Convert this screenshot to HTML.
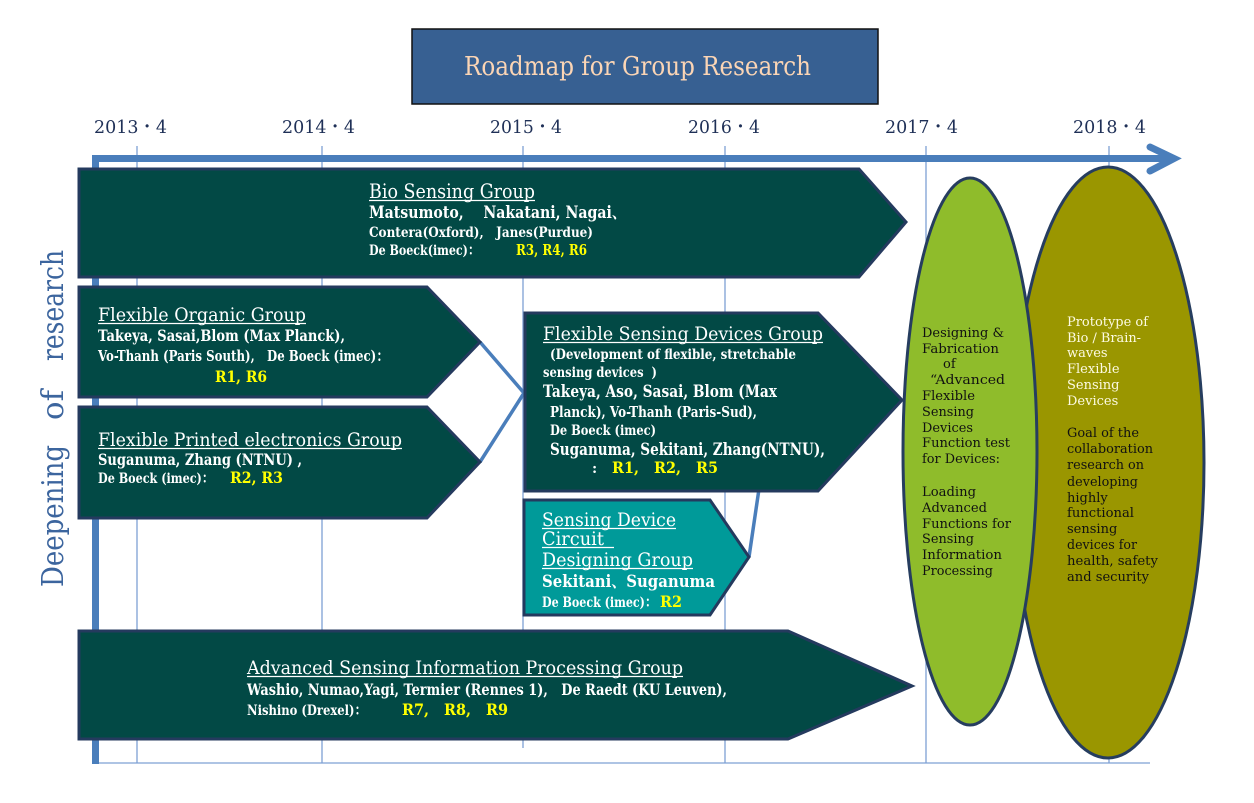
<!DOCTYPE html>
<html><head><meta charset="utf-8">
<style>
html,body{margin:0;padding:0;background:#fff;}
svg{display:block;}
text{font-family:"DejaVu Serif","Liberation Serif","Noto Serif CJK SC",serif;white-space:pre;}
.w{fill:#fff;}
.y{fill:#ffff00;font-weight:bold;}
.b{font-weight:bold;}
</style></head>
<body>
<svg width="1254" height="803" viewBox="0 0 1254 803" xmlns="http://www.w3.org/2000/svg">
<rect width="1254" height="803" fill="#fff"/>
<!-- title -->
<rect x="412" y="29" width="466" height="75" fill="#376092" stroke="#111" stroke-width="1.5"/>
<text x="464" y="75" font-size="26" fill="#fbd5b5" textLength="347" lengthAdjust="spacingAndGlyphs">Roadmap for Group Research</text>
<!-- years -->
<g font-size="18" fill="#1f3057">
<text x="94" y="133" textLength="73" lengthAdjust="spacingAndGlyphs">2013・4</text>
<text x="282" y="133" textLength="73" lengthAdjust="spacingAndGlyphs">2014・4</text>
<text x="490" y="133" textLength="72" lengthAdjust="spacingAndGlyphs">2015・4</text>
<text x="688" y="133" textLength="72" lengthAdjust="spacingAndGlyphs">2016・4</text>
<text x="885" y="133" textLength="73" lengthAdjust="spacingAndGlyphs">2017・4</text>
<text x="1073" y="133" textLength="73" lengthAdjust="spacingAndGlyphs">2018・4</text>
</g>
<!-- gridlines -->
<g stroke="#7ea0d4" stroke-width="1.3">
<line x1="137" y1="146" x2="137" y2="763"/>
<line x1="322" y1="146" x2="322" y2="763"/>
<line x1="523" y1="146" x2="523" y2="748"/>
<line x1="725" y1="146" x2="725" y2="763"/>
<line x1="926" y1="146" x2="926" y2="763"/>
<line x1="1109" y1="146" x2="1109" y2="763"/>
<line x1="92" y1="763" x2="1150" y2="763"/>
</g>
<!-- axes -->
<rect x="92" y="155" width="7" height="609" fill="#4a7ebb"/>
<rect x="92" y="155" width="1078" height="7" fill="#4a7ebb"/>
<polyline points="1150,147 1174,158.5 1150,171" fill="none" stroke="#4a7ebb" stroke-width="7" stroke-linecap="round" stroke-linejoin="miter"/>
<!-- side label -->
<g font-size="30" fill="#3c659e">
<text transform="translate(63,587) rotate(-90)" textLength="142" lengthAdjust="spacingAndGlyphs">Deepening</text>
<text transform="translate(63,420) rotate(-90)" textLength="30" lengthAdjust="spacingAndGlyphs">of</text>
<text transform="translate(63,361) rotate(-90)" textLength="111" lengthAdjust="spacingAndGlyphs">research</text>
</g>

<!-- connectors -->
<g stroke="#4a7ebb" stroke-width="3.5" fill="none">
<polyline points="480,342 524,393 480,462"/>
<line x1="749" y1="557" x2="759" y2="489"/>
</g>

<!-- boxes -->
<g stroke="#243a5e" stroke-width="3" stroke-linejoin="miter">
<polygon points="79,169 859,169 906,222 859,277 79,277" fill="#024945"/>
<polygon points="79,287 427,287 480,342 427,397 79,397" fill="#024945"/>
<polygon points="79,407 427,407 480,462 427,518 79,518" fill="#024945"/>
<polygon points="525,313 818,313 902,400 818,491 525,491" fill="#024945"/>
<polygon points="524,500 710,500 749,557 710,615 524,615" fill="#009a99"/>
<polygon points="79,631 788,631 912,686 788,739 79,739" fill="#024945"/>
</g>

<!-- ellipses -->
<ellipse cx="1108" cy="462.5" rx="96" ry="295.5" fill="#9a9600" stroke="#263d5f" stroke-width="3"/>
<ellipse cx="970" cy="451.5" rx="67" ry="273.5" fill="#8fbc2b" stroke="#263d5f" stroke-width="3"/>

<!-- Bio -->
<g class="w">
<text x="369" y="198" font-size="20" textLength="166" lengthAdjust="spacingAndGlyphs">Bio Sensing Group</text>
<text x="369" y="218" font-size="17" class="b" textLength="257" lengthAdjust="spacingAndGlyphs">Matsumoto,    Nakatani, Nagai、</text>
<text x="369" y="237" font-size="14" class="b" textLength="224" lengthAdjust="spacingAndGlyphs">Contera(Oxford),   Janes(Purdue)</text>
<text x="369" y="255" font-size="14" class="b" textLength="110" lengthAdjust="spacingAndGlyphs">De Boeck(imec)：</text>
</g>
<text x="516" y="255" font-size="15" class="y" textLength="71" lengthAdjust="spacingAndGlyphs">R3, R4, R6</text>
<line x1="369" y1="200.5" x2="535" y2="200.5" stroke="#fff" stroke-width="1.2"/>

<!-- Flexible Organic -->
<g class="w">
<text x="98" y="321" font-size="19" textLength="208" lengthAdjust="spacingAndGlyphs">Flexible Organic Group</text>
<text x="98" y="341" font-size="16" class="b" textLength="247" lengthAdjust="spacingAndGlyphs">Takeya, Sasai,Blom (Max Planck),</text>
<text x="98" y="361" font-size="15" class="b" textLength="290" lengthAdjust="spacingAndGlyphs">Vo-Thanh (Paris South),   De Boeck (imec)：</text>
</g>
<text x="215" y="382" font-size="16" class="y" textLength="52" lengthAdjust="spacingAndGlyphs">R1, R6</text>
<line x1="98" y1="323.5" x2="306" y2="323.5" stroke="#fff" stroke-width="1.2"/>

<!-- Flexible Printed -->
<g class="w">
<text x="98" y="446" font-size="19" textLength="304" lengthAdjust="spacingAndGlyphs">Flexible Printed electronics Group</text>
<text x="98" y="465" font-size="16" class="b" textLength="204" lengthAdjust="spacingAndGlyphs">Suganuma, Zhang (NTNU) ,</text>
<text x="98" y="483" font-size="14" class="b" textLength="115" lengthAdjust="spacingAndGlyphs">De Boeck (imec)：</text>
</g>
<text x="230" y="483" font-size="16" class="y" textLength="53" lengthAdjust="spacingAndGlyphs">R2, R3</text>
<line x1="98" y1="448.5" x2="402" y2="448.5" stroke="#fff" stroke-width="1.2"/>

<!-- FSD -->
<g class="w">
<text x="543" y="340" font-size="19" textLength="280" lengthAdjust="spacingAndGlyphs">Flexible Sensing Devices Group</text>
<text x="550" y="359" font-size="14" class="b" textLength="246" lengthAdjust="spacingAndGlyphs">(Development of flexible, stretchable</text>
<text x="543" y="377" font-size="14" class="b" textLength="114" lengthAdjust="spacingAndGlyphs">sensing devices  )</text>
<text x="543" y="397" font-size="17" class="b" textLength="234" lengthAdjust="spacingAndGlyphs">Takeya, Aso, Sasai, Blom (Max</text>
<text x="550" y="417" font-size="15" class="b" textLength="207" lengthAdjust="spacingAndGlyphs">Planck), Vo-Thanh (Paris-Sud),</text>
<text x="550" y="435" font-size="14" class="b" textLength="106" lengthAdjust="spacingAndGlyphs">De Boeck (imec)</text>
<text x="550" y="455" font-size="17" class="b" textLength="275" lengthAdjust="spacingAndGlyphs">Suganuma, Sekitani, Zhang(NTNU),</text>
<text x="592" y="473" font-size="14" class="b">:</text>
</g>
<text x="612" y="473" font-size="16" class="y" textLength="106" lengthAdjust="spacingAndGlyphs">R1,   R2,   R5</text>
<line x1="543" y1="342.5" x2="823" y2="342.5" stroke="#fff" stroke-width="1.2"/>

<!-- Circuit -->
<g class="w">
<text x="542" y="526" font-size="19" textLength="134" lengthAdjust="spacingAndGlyphs">Sensing Device</text>
<text x="542" y="545" font-size="19" textLength="62" lengthAdjust="spacingAndGlyphs">Circuit</text>
<text x="542" y="566" font-size="19" textLength="151" lengthAdjust="spacingAndGlyphs">Designing Group</text>
<text x="542" y="587" font-size="17" class="b" textLength="173" lengthAdjust="spacingAndGlyphs">Sekitani、Suganuma</text>
<text x="542" y="607" font-size="14" class="b" textLength="114" lengthAdjust="spacingAndGlyphs">De Boeck (imec)：</text>
</g>
<text x="660" y="607" font-size="16" class="y" textLength="22" lengthAdjust="spacingAndGlyphs">R2</text>
<g stroke="#fff" stroke-width="1.2">
<line x1="542" y1="528.5" x2="676" y2="528.5"/>
<line x1="542" y1="547.5" x2="614" y2="547.5"/>
<line x1="542" y1="568.5" x2="693" y2="568.5"/>
</g>

<!-- Advanced -->
<g class="w">
<text x="247" y="674" font-size="19" textLength="436" lengthAdjust="spacingAndGlyphs">Advanced Sensing Information Processing Group</text>
<text x="247" y="695" font-size="16" class="b" textLength="480" lengthAdjust="spacingAndGlyphs">Washio, Numao,Yagi, Termier (Rennes 1),   De Raedt (KU Leuven),</text>
<text x="247" y="715" font-size="14" class="b" textLength="119" lengthAdjust="spacingAndGlyphs">Nishino (Drexel)：</text>
</g>
<text x="402" y="715" font-size="16" class="y" textLength="106" lengthAdjust="spacingAndGlyphs">R7,   R8,   R9</text>
<line x1="247" y1="676.5" x2="683" y2="676.5" stroke="#fff" stroke-width="1.2"/>

<!-- green ellipse text -->
<g font-size="13" fill="#111">
<text x="922" y="337" textLength="82" lengthAdjust="spacingAndGlyphs">Designing &amp;</text>
<text x="922" y="353" textLength="77" lengthAdjust="spacingAndGlyphs">Fabrication</text>
<text x="943" y="368">of</text>
<text x="930" y="384" textLength="75" lengthAdjust="spacingAndGlyphs">“Advanced</text>
<text x="922" y="400" textLength="53" lengthAdjust="spacingAndGlyphs">Flexible</text>
<text x="922" y="416" textLength="52" lengthAdjust="spacingAndGlyphs">Sensing</text>
<text x="922" y="432" textLength="51" lengthAdjust="spacingAndGlyphs">Devices</text>
<text x="922" y="447" textLength="88" lengthAdjust="spacingAndGlyphs">Function test</text>
<text x="922" y="463" textLength="78" lengthAdjust="spacingAndGlyphs">for Devices:</text>
<text x="922" y="496" textLength="54" lengthAdjust="spacingAndGlyphs">Loading</text>
<text x="922" y="512" textLength="65" lengthAdjust="spacingAndGlyphs">Advanced</text>
<text x="922" y="528" textLength="89" lengthAdjust="spacingAndGlyphs">Functions for</text>
<text x="922" y="543" textLength="52" lengthAdjust="spacingAndGlyphs">Sensing</text>
<text x="922" y="559" textLength="80" lengthAdjust="spacingAndGlyphs">Information</text>
<text x="922" y="575" textLength="71" lengthAdjust="spacingAndGlyphs">Processing</text>
</g>
<!-- olive ellipse text -->
<g font-size="13" fill="#fdfbe2">
<text x="1067" y="326" textLength="81" lengthAdjust="spacingAndGlyphs">Prototype of</text>
<text x="1067" y="342" textLength="74" lengthAdjust="spacingAndGlyphs">Bio / Brain-</text>
<text x="1067" y="357">waves</text>
<text x="1067" y="373">Flexible</text>
<text x="1067" y="389">Sensing</text>
<text x="1067" y="405">Devices</text>
</g>
<g font-size="13" fill="#111">
<text x="1067" y="437" textLength="72" lengthAdjust="spacingAndGlyphs">Goal of the</text>
<text x="1067" y="453" textLength="86" lengthAdjust="spacingAndGlyphs">collaboration</text>
<text x="1067" y="469" textLength="77" lengthAdjust="spacingAndGlyphs">research on</text>
<text x="1067" y="486" textLength="71" lengthAdjust="spacingAndGlyphs">developing</text>
<text x="1067" y="502">highly</text>
<text x="1067" y="517" textLength="67" lengthAdjust="spacingAndGlyphs">functional</text>
<text x="1067" y="533">sensing</text>
<text x="1067" y="549" textLength="70" lengthAdjust="spacingAndGlyphs">devices for</text>
<text x="1067" y="565" textLength="91" lengthAdjust="spacingAndGlyphs">health, safety</text>
<text x="1067" y="581" textLength="82" lengthAdjust="spacingAndGlyphs">and security</text>
</g>
</svg>
</body></html>
